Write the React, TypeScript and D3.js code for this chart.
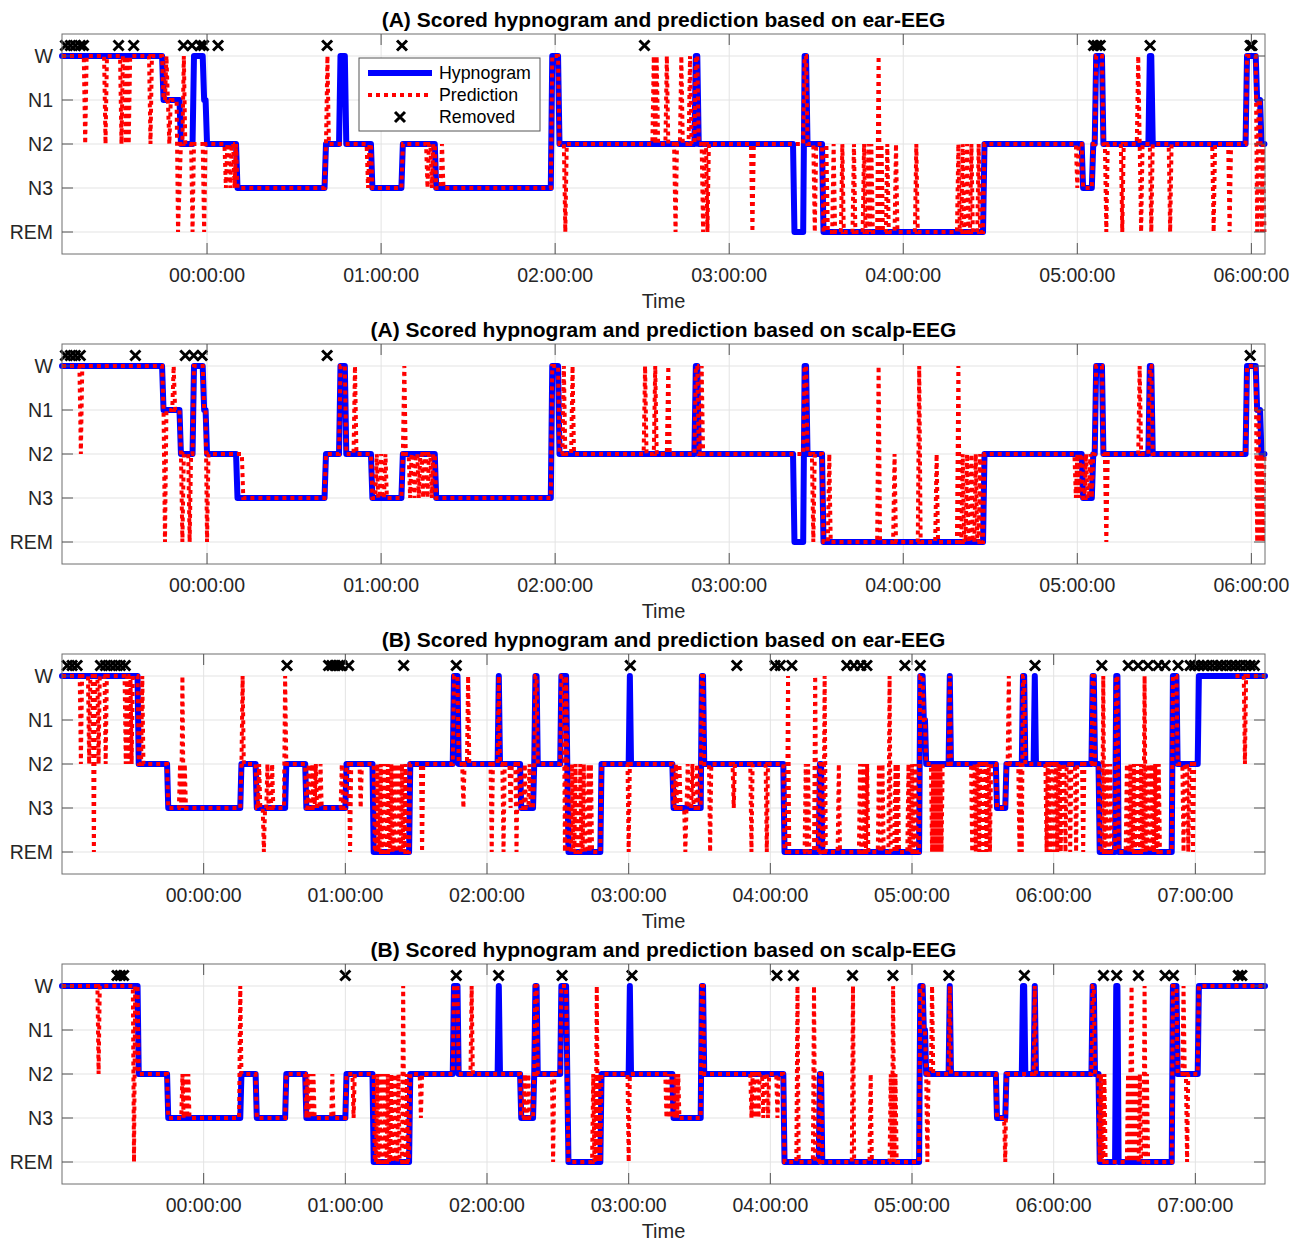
import React from "react";
import * as d3 from "d3";

// sleep stages, top to bottom
const STAGES = ["W", "N1", "N2", "N3", "REM"];
const EPOCH_MIN = 0.5; // 30 s epochs

// time axis in minutes relative to 00:00:00
const X_DOMAIN_A = [-50, 364.7];
const X_TICKS_A = [0, 60, 120, 180, 240, 300, 360];
const X_DOMAIN_B = [-60, 449.5];
const X_TICKS_B = [0, 60, 120, 180, 240, 300, 360, 420];

// scored hypnograms: [start minute, stage index]
const hypnoA = [
  [-50, 0], [-15, 1], [-9, 2], [-4.5, 0], [-1, 1], [0, 2], [10.5, 3], [41, 2], [46, 0], [48, 2],
  [57, 3], [67.5, 2], [79, 3], [119, 0], [121.5, 2], [168.5, 0], [169.5, 2], [202.5, 4], [206, 0],
  [207, 2], [212.5, 4], [268, 2], [302, 3], [305.5, 2], [306.5, 0], [309, 2], [325, 0], [326, 2],
  [358.5, 0], [362, 1], [363.5, 2],
];
const hypnoB = [
  [-60, 0], [-27.5, 2], [-15, 3], [16, 2], [22.3, 3], [35, 2], [43.5, 3], [60.5, 2], [71.7, 4],
  [87.3, 2], [106, 0], [108, 2], [125, 0], [125.5, 2], [134.5, 3], [140, 2], [140.5, 0], [141.5, 2],
  [151.3, 0], [154, 2], [154.5, 4], [168.4, 2], [180.5, 0], [181, 2], [198.7, 3], [211, 0], [212, 2],
  [246, 4], [261, 2], [261.7, 4], [303.3, 0], [305, 1], [306, 2], [315.8, 0], [316.5, 2], [335.6, 3],
  [339.8, 2], [347, 0], [347.7, 2], [351.8, 0], [352.5, 2], [376.5, 0], [377.3, 2], [379.3, 4],
  [386.5, 0], [387.3, 4], [410.5, 0], [412.5, 2], [421.5, 0],
];

// predictions: where they differ from the hypnogram
// single-epoch deviations [minute, stage]
const spikesAEar = [
  [-42.2, 2], [-35.1, 2], [-29.3, 2], [-27.9, 2], [-26.8, 2], [-19.5, 2], [-14, 0], [-13, 2], [-10.2, 4],
  [-9.5, 3], [-8, 0], [-5, 4], [-0.8, 4], [6.5, 3], [8, 3], [9.5, 3], [41.5, 0], [55.5, 3], [76, 3],
  [77.5, 3], [81, 2], [123.5, 4], [154, 0], [155, 0], [158.6, 0], [161.4, 4], [163.5, 0], [166.6, 0],
  [171, 4], [172.3, 4], [187.9, 4], [209.7, 4], [213.7, 2], [216, 2], [218.9, 2], [222.9, 2],
  [226.3, 2], [228, 2], [229.2, 2], [231.3, 0], [232.7, 2], [234.4, 2], [237.3, 2], [244.7, 2],
  [259, 2], [260.5, 2], [262, 2], [263.5, 2], [266, 2], [300, 3], [310, 4], [315.4, 4], [321, 0],
  [322, 4], [325.7, 4], [332, 4], [347, 4], [352.7, 4], [362, 4], [363.5, 4], [364.3, 4],
];
const spikesAScalp = [
  [-43.3, 2], [-14.4, 4], [-11.5, 0], [-8.6, 4], [-6, 4], [0, 4], [51.1, 0], [58.5, 2], [60, 2],
  [61.5, 2], [68, 0], [70, 3], [71.5, 3], [73, 3], [74.5, 3], [76, 3], [77.5, 3],
  [122.9, 0], [125.8, 0], [150.8, 0], [154.3, 0], [159.1, 0], [170.6, 0], [209.1, 4], [214.5, 2],
  [231.3, 0], [237, 2], [245.3, 0], [251.6, 2], [259, 0], [260.5, 2], [262, 2],
  [263.5, 2], [265, 2], [266.5, 2], [299.5, 3], [300.5, 3], [303, 2], [304.5, 2],
  [310, 4], [321.7, 0], [360.8, 0], [362, 4], [363, 4], [364, 4],
];
const spikesBEar = [
  [-52.2, 2], [-48.7, 2], [-46.6, 4], [-44.5, 2], [-41.6, 2], [-33.2, 2], [-31.8, 2], [-30.3, 2],
  [-25.8, 0], [-10, 2], [-9, 0], [-8, 2], [16.5, 0], [23.5, 2], [25.4, 4], [27, 2], [29, 2], [34.6, 0],
  [44.5, 2], [46, 2], [47.5, 2], [49.4, 2], [58.6, 2], [62.1, 4], [66.3, 3], [72, 2], [73.5, 2],
  [75, 2], [76.5, 2], [78, 2], [79.5, 2], [81, 2], [82.5, 2], [84, 2], [85.5, 2],
  [92.4, 4], [110, 3], [112.2, 0], [122.1, 4], [127, 4], [129.9, 3], [132.7, 4],
  [136, 2], [138, 2], [153.1, 4], [155.8, 2], [157.6, 2], [159.4, 2], [161.1, 2], [162.9, 2], [164, 2],
  [180, 4], [200, 2], [201.5, 2], [203.9, 4], [205, 2], [207, 2], [209, 2], [214.5, 4], [224.4, 3],
  [232.2, 4], [238.5, 4], [247.7, 0], [254.8, 2], [256.2, 2], [259, 0], [263.2, 0], [268.9, 2], [278, 2],
  [279.5, 2], [281, 2], [286, 2], [287.5, 2], [290.7, 0], [292.9, 2], [294.2, 2], [298.5, 2], [300, 2],
  [301.5, 2], [308.5, 4], [309.5, 4], [310.5, 4], [311.5, 4], [312.5, 4], [325.5, 4], [327, 4],
  [328.5, 4], [330, 4], [331.5, 4], [333, 4], [341, 0], [345.5, 4], [346.5, 4], [357, 4], [358.5, 4],
  [360, 4], [361.5, 4], [363, 4], [365, 4], [367, 4], [369.5, 4], [372.5, 4], [381, 0], [382.5, 2],
  [384, 2], [391, 2], [392.5, 2], [394, 2], [395.5, 2], [397, 2], [398.4, 0], [400, 2], [401.5, 2],
  [403, 2], [404.5, 2], [414.9, 4], [417, 4], [419, 4], [441.1, 2],
];
const spikesBScalp = [
  [-44.5, 2], [-29.5, 4], [-9, 2], [-7.5, 2], [-6.5, 2], [15.5, 0], [44, 2], [45.5, 2], [46.6, 2],
  [54.4, 2], [63.5, 3], [72, 2], [73.5, 2], [75, 2], [76.5, 2], [78, 2], [79.5, 2], [81, 2], [82.5, 2],
  [84.7, 0], [86, 2], [91.8, 3], [113.6, 0], [136, 2],
  [137.5, 2], [148.2, 4], [165, 2], [166.6, 0], [167.5, 2], [180, 4], [196, 3], [197, 3], [198, 3],
  [200, 2], [201, 2], [232, 3], [233.5, 3], [235, 3], [237, 3], [239, 3], [242.8, 3], [251.3, 0],
  [258.3, 0], [275.2, 0], [282.3, 2], [291, 2], [292.2, 0], [293, 2], [306.3, 4], [308.4, 0],
  [339.4, 4], [380, 2], [381.5, 2], [391.5, 2], [392.5, 2], [393.1, 0], [394, 2], [395, 2], [396.5, 2],
  [398.4, 0], [399.5, 2], [415, 0], [416.4, 4],
];
// longer deviations [from, to, stage]
const overridesAEar = [[-4.5, 0, 2], [46, 48, 2], [202.5, 206, 2], [325, 326, 2]];
const overridesAScalp = [[10.5, 12.5, 2], [202.5, 206, 2]];
const overridesBEar = [[180.5, 181, 2], [351.8, 352.5, 2]];
const overridesBScalp = [[125, 125.5, 2], [180.5, 181, 2], [347, 347.7, 2], [386.5, 387.3, 4]];
// epochs without prediction
const gapsBEar = [[421, 437]];

// removed epochs (minutes)
const removedAEar = [-48.8, -47.1, -45.4, -43.7, -42.6, -30.5, -25.3, -8.1, -5.2, -2.3, -1.2, 3.8, 41.4, 67.2, 150.8, 305.6, 306.8, 307.9, 325.1, 359.6, 360.2];
const removedAScalp = [-48.8, -47.1, -45.4, -43.7, -24.7, -7.5, -4.6, -1.7, 41.4, 359.6];
const removedBEar = [-57.8, -55.7, -53.6, -43.7, -41.6, -39.5, -37.4, -35.3, -33.2, 35.3, 52.9, 54.3, 55.7, 57.1, 58.5, 61.4, 84.7, 107, 180.7, 225.8, 242, 244.2, 249.1, 272.4, 275.4, 278.3, 280.9, 297, 303.5, 352.1, 380.4, 391.6, 395.8, 400, 404.3, 407.2, 412.7, 417.8, 419.6, 421.5, 423.4, 425.1, 427.2, 429.3, 431, 433.1, 435.2, 437.1, 439, 441.3, 443.2, 445];
const removedBScalp = [-36.7, -35.3, -33.9, 60, 107, 124.9, 151.8, 181.4, 242.8, 249.8, 274.8, 291.9, 315.6, 347.6, 381.1, 386.7, 395.9, 407.2, 410.7, 438.2, 439.7];

const W = 1291;
const H = 1241;
const LEFT = 62;
const RIGHT = 1265;
const PLOT_H = 220;
const PANEL_STEP = 310;
const FIRST_TOP = 34;
const TICK = 11;
const FONT = "'Liberation Sans', Arial, Helvetica, sans-serif";
const BLUE = "#0000ff";
const RED = "#ff0000";
const RED_W = 4;
const RED_DASH = "4 4";

type Pt = { t: number; s: number };

function stageAt(steps: number[][], t: number) {
  let s = steps[0][1];
  for (const [t0, st] of steps) {
    if (t0 <= t + 1e-9) s = st;
    else break;
  }
  return s;
}

function epochSeries(domain: number[], steps: number[][]): Pt[] {
  const n = Math.floor((domain[1] - domain[0]) / EPOCH_MIN + 1e-9) + 1;
  return d3.range(n).map((i) => {
    const t = domain[0] + i * EPOCH_MIN;
    return { t, s: stageAt(steps, t) };
  });
}

function predictionSeries(domain: number[], steps: number[][], overrides: number[][], spikes: number[][], gaps: number[][]): Pt[] {
  const pts = epochSeries(domain, steps);
  overrides.forEach(([a, b, st]) => pts.forEach((p) => { if (p.t >= a && p.t < b) p.s = st; }));
  spikes.forEach(([t, st]) => {
    const i = Math.round((t - domain[0]) / EPOCH_MIN);
    if (pts[i]) pts[i].s = st;
  });
  gaps.forEach(([a, b]) => pts.forEach((p) => { if (p.t >= a && p.t < b) p.s = NaN; }));
  return pts;
}

const fmtTime = (m: number) => {
  const h = Math.floor(m / 60);
  const mm = m % 60;
  return `${String(h).padStart(2, "0")}:${String(mm).padStart(2, "0")}:00`;
};

const panels = [
  { title: "(A) Scored hypnogram and prediction based on ear-EEG", domain: X_DOMAIN_A, ticks: X_TICKS_A, hypno: hypnoA, spikes: spikesAEar, overrides: overridesAEar, gaps: [], removed: removedAEar, legend: true },
  { title: "(A) Scored hypnogram and prediction based on scalp-EEG", domain: X_DOMAIN_A, ticks: X_TICKS_A, hypno: hypnoA, spikes: spikesAScalp, overrides: overridesAScalp, gaps: [], removed: removedAScalp, legend: false },
  { title: "(B) Scored hypnogram and prediction based on ear-EEG", domain: X_DOMAIN_B, ticks: X_TICKS_B, hypno: hypnoB, spikes: spikesBEar, overrides: overridesBEar, gaps: gapsBEar, removed: removedBEar, legend: false },
  { title: "(B) Scored hypnogram and prediction based on scalp-EEG", domain: X_DOMAIN_B, ticks: X_TICKS_B, hypno: hypnoB, spikes: spikesBScalp, overrides: overridesBScalp, gaps: [], removed: removedBScalp, legend: false },
];

const cross = "M-5,-5L5,5M-5,5L5,-5";

function Panel({ cfg, top }: { cfg: any; top: number }) {
  const bottom = top + PLOT_H;
  const x = d3.scaleLinear().domain(cfg.domain).range([LEFT, RIGHT]);
  const y = d3.scaleLinear().domain([-0.5, 4.5]).range([top, bottom]);
  const line = d3
    .line<Pt>()
    .defined((d) => !isNaN(d.s))
    .x((d) => x(d.t))
    .y((d) => y(d.s));

  const hyp = epochSeries(cfg.domain, cfg.hypno);
  const pred = predictionSeries(cfg.domain, cfg.hypno, cfg.overrides, cfg.spikes, cfg.gaps);
  const markerY = y(-0.24);
  const stageIdx = d3.range(STAGES.length);

  return (
    <g>
      <rect x={LEFT} y={top} width={RIGHT - LEFT} height={PLOT_H} fill="#fff" />
      {/* grid */}
      {stageIdx.map((i) => (
        <line key={"gy" + i} x1={LEFT} x2={RIGHT} y1={y(i)} y2={y(i)} stroke="#e3e3e3" strokeWidth={1} />
      ))}
      {cfg.ticks.map((t: number) => (
        <line key={"gx" + t} x1={x(t)} x2={x(t)} y1={top} y2={bottom} stroke="#e3e3e3" strokeWidth={1} />
      ))}
      {/* data */}
      <path d={line(hyp) || ""} fill="none" stroke={BLUE} strokeWidth={6} strokeLinejoin="round" strokeLinecap="round" />
      <path d={line(pred) || ""} fill="none" stroke={RED} strokeWidth={RED_W} strokeDasharray={RED_DASH} strokeLinejoin="miter" />
      {cfg.removed.map((t: number, i: number) => (
        <path key={"m" + i} d={cross} transform={`translate(${x(t)},${markerY})`} stroke="#000" strokeWidth={3} fill="none" />
      ))}
      {/* box and ticks */}
      <rect x={LEFT} y={top} width={RIGHT - LEFT} height={PLOT_H} fill="none" stroke="#6e6e6e" strokeWidth={1} />
      {stageIdx.map((i) => (
        <g key={"ty" + i}>
          <line x1={LEFT} x2={LEFT + TICK} y1={y(i)} y2={y(i)} stroke="#555" />
          <line x1={RIGHT - TICK} x2={RIGHT} y1={y(i)} y2={y(i)} stroke="#555" />
          <text x={LEFT - 9} y={y(i)} dy="0.35em" textAnchor="end" fontSize={19.5} fill="#262626" fontFamily={FONT}>
            {STAGES[i]}
          </text>
        </g>
      ))}
      {cfg.ticks.map((t: number) => (
        <g key={"tx" + t}>
          <line x1={x(t)} x2={x(t)} y1={bottom - TICK} y2={bottom} stroke="#555" />
          <line x1={x(t)} x2={x(t)} y1={top} y2={top + TICK} stroke="#555" />
          <text x={x(t)} y={bottom + 28} textAnchor="middle" fontSize={19.5} fill="#262626" fontFamily={FONT}>
            {fmtTime(t)}
          </text>
        </g>
      ))}
      <text x={(LEFT + RIGHT) / 2} y={bottom + 54} textAnchor="middle" fontSize={20} fill="#262626" fontFamily={FONT}>
        Time
      </text>
      <text x={(LEFT + RIGHT) / 2} y={top - 7} textAnchor="middle" fontSize={21} fontWeight="bold" fill="#000" fontFamily={FONT}>
        {cfg.title}
      </text>
      {cfg.legend && (
        <g transform={`translate(359,${top + 24})`}>
          <rect x={0} y={0} width={181} height={73} fill="#fff" stroke="#555" strokeWidth={1} />
          <line x1={9} x2={73} y1={15} y2={15} stroke={BLUE} strokeWidth={6} />
          <line x1={9} x2={73} y1={37} y2={37} stroke={RED} strokeWidth={RED_W} strokeDasharray={RED_DASH} />
          <path d={cross} transform="translate(41,59)" stroke="#000" strokeWidth={3} fill="none" />
          {["Hypnogram", "Prediction", "Removed"].map((s, i) => (
            <text key={s} x={80} y={15 + 22 * i} dy="0.35em" fontSize={17.8} fill="#000" fontFamily={FONT}>
              {s}
            </text>
          ))}
        </g>
      )}
    </g>
  );
}

export default function App() {
  return (
    <svg width={W} height={H} style={{ position: "absolute", left: 0, top: 0, background: "#fff" }}>
      <rect width={W} height={H} fill="#fff" />
      {panels.map((p, i) => (
        <Panel key={i} cfg={p} top={FIRST_TOP + i * PANEL_STEP} />
      ))}
    </svg>
  );
}
